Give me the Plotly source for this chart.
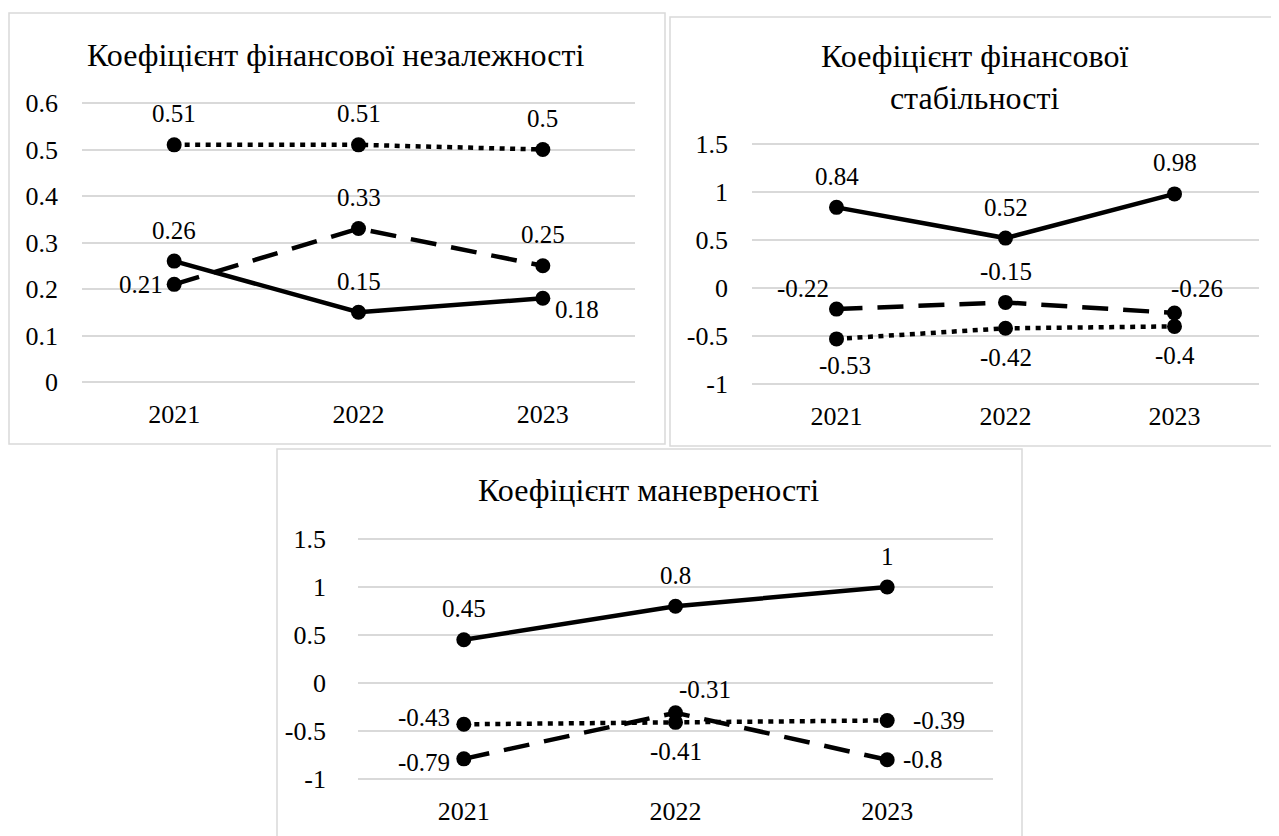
import plotly.graph_objects as go

# page is shown with an 8px body margin, so the figure is 8px smaller
OFF = 8
W, H = 1279 - OFF, 836 - OFF

years = ["2021", "2022", "2023"]

# Panel 1: Коефіцієнт фінансової незалежності
indep_solid = [0.26, 0.15, 0.18]
indep_dashed = [0.21, 0.33, 0.25]
indep_dotted = [0.51, 0.51, 0.5]

# Panel 2: Коефіцієнт фінансової стабільності
stab_solid = [0.84, 0.52, 0.98]
stab_dashed = [-0.22, -0.15, -0.26]
stab_dotted = [-0.53, -0.42, -0.4]

# Panel 3: Коефіцієнт маневреності
man_solid = [0.45, 0.8, 1]
man_dashed = [-0.79, -0.31, -0.8]
man_dotted = [-0.43, -0.41, -0.39]

titles = ["Коефіцієнт фінансової незалежності",
          "Коефіцієнт фінансової<br>стабільності",
          "Коефіцієнт маневреності"]

yticks_1 = [0, 0.1, 0.2, 0.3, 0.4, 0.5, 0.6]
yticks_23 = [-1, -0.5, 0, 0.5, 1, 1.5]

# ---------------- styling / layout (page pixels) ----------------
FONT = "Liberation Serif"
TICK_SIZE = 26
LABEL_SIZE = 25
TITLE_SIZE = 32
GRID = "#d9d9d9"

# plot areas: (x0, x1, ytop, ybottom) in page px
areas = [(82, 635, 103, 382), (752, 1259, 144, 384), (358, 993, 539, 779)]
yranges = [(0, 0.6), (-1, 1.5), (-1, 1.5)]
ystandoff = [23, 23, 31]
borders = [(8, 665, 13, 444), (669, 1285, 17, 446), (276, 1022, 449, 845)]
title_pos = [(336, 55), (974, 77), (649, 490)]
PAD = 4  # px of extra range so edge gridlines are drawn

# label offsets: (xanchor, dx, dy) per point for solid, dashed, dotted
T = ("center", 0, 31)
B = ("center", 0, -29)
label_style = [
    [[T, T, ("left", 10, -11)],
     [("right", -9, 0), T, T],
     [T, T, T]],
    [[T, T, T],
     [("right", -6, 21), T, ("center", 22, 24)],
     [("center", 8, -27), B, B]],
    [[T, T, T],
     [("right", -12, -4), ("center", 29, 23), ("left", 14, 0)],
     [("right", -12, 7), B, ("left", 24, 0)]],
]

series = [
    [indep_solid, indep_dashed, indep_dotted],
    [stab_solid, stab_dashed, stab_dotted],
    [man_solid, man_dashed, man_dotted],
]
dashes = ["solid", "26px,15px", "5px,5.5px"]


def px_x(px):
    return (px - OFF) / W


def px_y(py):
    return 1 - (py - OFF) / H


def fmt(v):
    return f"{v:g}"


fig = go.Figure()
annotations = []
shapes = []

for p in range(3):
    xa = "x" if p == 0 else f"x{p+1}"
    ya = "y" if p == 0 else f"y{p+1}"
    for s, vals in enumerate(series[p]):
        fig.add_trace(go.Scatter(
            x=list(range(len(years))), y=vals, xaxis=xa, yaxis=ya,
            mode="lines+markers",
            line=dict(color="black", width=4.5, dash=dashes[s]),
            marker=dict(color="black", size=15, symbol="circle"),
            showlegend=False, hoverinfo="skip", cliponaxis=False,
        ))
        for i, v in enumerate(vals):
            anc, dx, dy = label_style[p][s][i]
            annotations.append(dict(
                x=i, y=v, xref=xa, yref=ya, text=fmt(v), showarrow=False,
                xanchor=anc, yanchor="middle", xshift=dx, yshift=dy,
                font=dict(family=FONT, size=LABEL_SIZE, color="black"),
            ))
    x0, x1, yt, yb = areas[p]
    lo, hi = yranges[p]
    upp = (hi - lo) / (yb - yt)
    yt_vals = yticks_1 if p == 0 else yticks_23
    axx = dict(
        domain=[px_x(x0), px_x(x1)], range=[-0.5, 2.5],
        tickvals=list(range(len(years))), ticktext=years,
        showgrid=False, zeroline=False, showline=False, ticks="",
        tickfont=dict(family=FONT, size=TICK_SIZE, color="black"),
        ticklabelstandoff=10, anchor=ya, fixedrange=True, automargin=False,
    )
    axy = dict(
        domain=[px_y(yb + PAD), px_y(yt - PAD)],
        range=[lo - PAD * upp, hi + PAD * upp],
        tickvals=yt_vals, ticktext=[fmt(t) for t in yt_vals],
        showgrid=True, gridcolor=GRID, gridwidth=1.5, zeroline=False,
        showline=False, ticks="", ticklabelstandoff=ystandoff[p],
        tickfont=dict(family=FONT, size=TICK_SIZE, color="black"),
        anchor=xa, fixedrange=True, automargin=False,
    )
    fig.update_layout(**{("xaxis" if p == 0 else f"xaxis{p+1}"): axx,
                         ("yaxis" if p == 0 else f"yaxis{p+1}"): axy})
    bx0, bx1, by0, by1 = borders[p]
    shapes.append(dict(type="rect", xref="paper", yref="paper",
                       x0=px_x(bx0 + 1), x1=px_x(bx1), y0=px_y(by1), y1=px_y(by0),
                       line=dict(color=GRID, width=1.5), fillcolor="rgba(0,0,0,0)",
                       layer="below"))
    tx, ty = title_pos[p]
    annotations.append(dict(
        x=px_x(tx), y=px_y(ty), xref="paper", yref="paper", text=titles[p],
        showarrow=False, xanchor="center", yanchor="middle",
        font=dict(family=FONT, size=TITLE_SIZE, color="black"),
    ))

fig.update_layout(
    template="none",
    width=W, height=H, margin=dict(l=0, r=0, t=0, b=0, pad=0, autoexpand=False),
    paper_bgcolor="white", plot_bgcolor="white",
    annotations=annotations, shapes=shapes, showlegend=False,
    font=dict(family=FONT, color="black"),
)

fig.write_html("out.html")
